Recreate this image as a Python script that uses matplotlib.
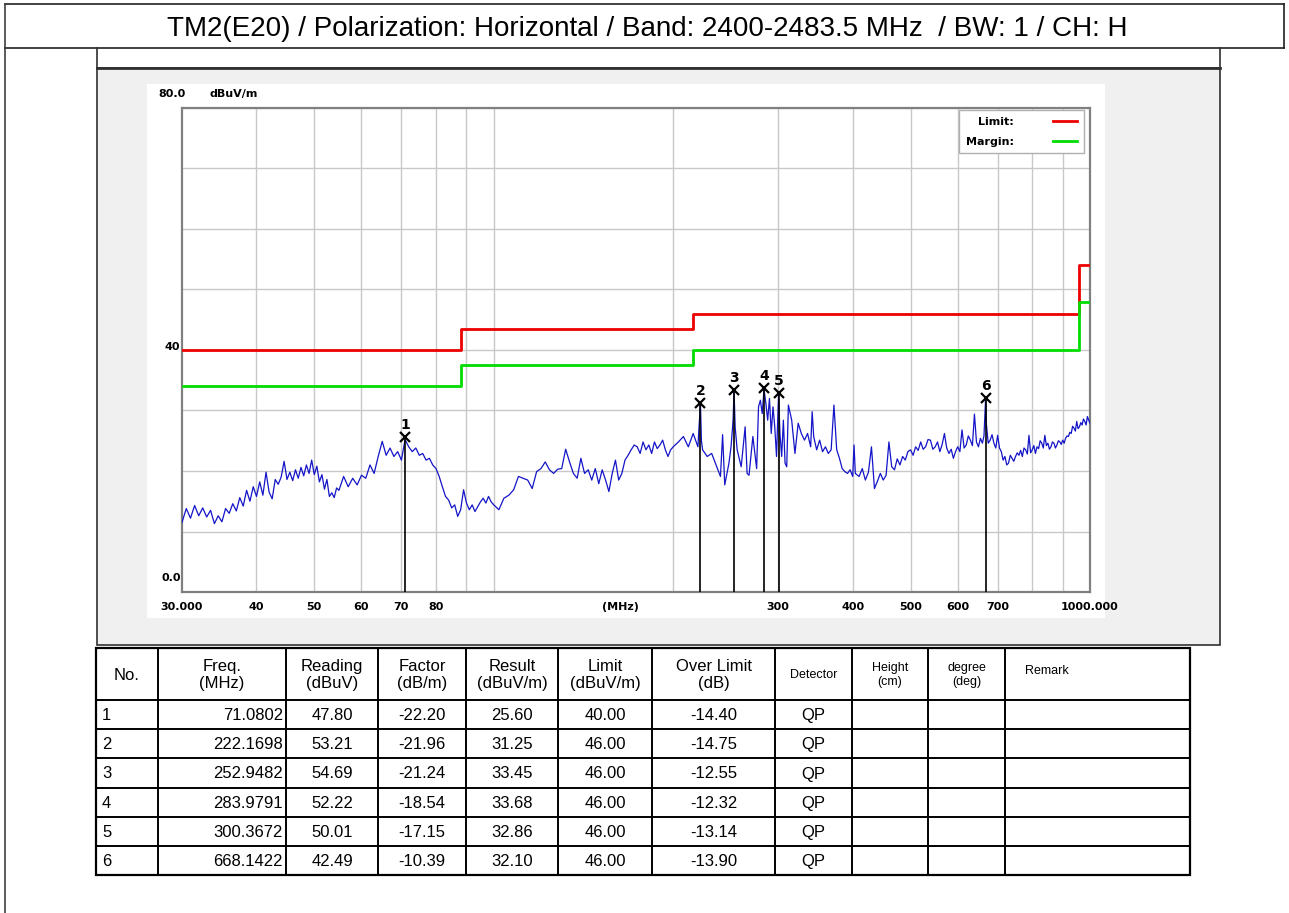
import matplotlib
matplotlib.use('Agg')
import matplotlib.pyplot as plt
from matplotlib.patches import Rectangle
from matplotlib.lines import Line2D

# ---- scan trace (MHz, dBuV/m) ----
f_seg1 = [30, 30.5, 31, 31.5, 32, 32.5, 33, 33.5, 34, 34.5,
          35, 35.5, 36, 36.5, 37, 37.5, 38, 38.5, 39, 39.5,
          40, 40.5, 41, 41.5, 42, 42.5, 43, 43.5, 44, 44.5,
          45, 45.5, 46, 46.5, 47, 47.5, 48, 48.5, 49, 49.5,
          50, 50.5, 51, 51.5, 52, 52.5, 53, 53.5, 54, 54.5, 55]
v_seg1 = [11.5, 13.8, 12.2, 14.3, 12.6, 13.9, 12.4, 13.5, 11.3, 12.6,
          11.6, 13.8, 13.0, 14.6, 13.4, 15.6, 14.2, 16.8, 15.0, 17.4,
          15.8, 18.2, 16.0, 19.8, 16.5, 15.4, 18.6, 17.8, 19.0, 21.6,
          18.6, 19.8, 18.4, 20.2, 18.8, 20.6, 19.2, 21.0, 19.6, 21.8,
          19.4, 20.8, 18.2, 19.4, 17.0, 18.6, 15.8, 16.4, 15.6, 17.2, 16.8]

f_seg2 = [56, 57, 58, 59, 60, 61, 62, 63, 64, 65, 66, 67, 68, 69, 70,
          71, 72, 73, 74, 75, 76, 77, 78, 79, 80, 81, 82, 83, 84, 85,
          86, 87, 88, 89, 90, 91, 92, 93, 94, 95, 96, 97, 98, 99, 100]
v_seg2 = [19.1, 17.4, 18.8, 17.7, 19.3, 18.8, 21.0, 19.6, 22.4, 24.9,
          22.6, 23.8, 22.4, 23.2, 21.8, 25.2, 24.0, 23.2, 23.8, 22.6,
          22.9, 21.8, 22.1, 21.0, 20.4, 19.1, 17.4, 15.8, 15.2, 13.9,
          14.4, 12.5, 13.6, 16.9, 14.7, 13.6, 14.4, 13.3, 14.1, 14.9,
          15.5, 14.7, 15.8, 14.9, 14.4]

f_seg3 = [102, 104, 106, 108, 110, 112, 114, 116, 118, 120,
          122, 124, 126, 128, 130, 132, 134, 136, 138, 140,
          142, 144, 146, 148, 150, 152, 154, 156, 158, 160,
          162, 164, 166, 168, 170, 172, 174, 176, 178, 180,
          182, 184, 186, 188, 190, 192, 194, 196, 198, 200]
v_seg3 = [13.6, 15.5, 16.0, 16.9, 19.1, 18.8, 18.5, 17.1, 19.9, 20.4,
          21.5, 20.2, 19.6, 20.3, 20.4, 23.6, 21.5, 19.6, 18.8, 22.1,
          19.6, 20.2, 18.5, 20.4, 17.9, 20.2, 18.5, 16.6, 19.6, 21.8,
          18.5, 19.6, 21.8, 22.6, 23.5, 24.3, 24.0, 22.9, 24.8, 23.5,
          24.3, 22.9, 24.8, 23.7, 24.3, 25.1, 23.5, 22.4, 23.5, 24.0]

f_seg4 = [204, 208, 212, 216, 220, 221, 222.17, 223, 224, 228,
          232, 236, 240, 242, 244, 248, 250, 252, 252.95, 254,
          256, 260, 264, 266, 268, 272, 276, 278, 280, 282,
          283.98, 286, 288, 290, 292, 294, 296, 298, 300.37, 302,
          304, 306, 308, 310, 312, 316, 320, 324, 328, 332,
          336, 340, 342, 344, 348, 352, 356, 360, 364, 368,
          372, 376, 380, 384, 388, 392, 396, 400, 402, 404]
v_seg4 = [24.8, 25.7, 24.0, 26.2, 24.0, 27.5, 31.0, 25.0, 23.5, 22.4,
          22.9, 21.0, 19.1, 26.0, 17.7, 21.3, 24.0, 28.4, 33.2, 27.3,
          23.5, 20.7, 27.3, 19.6, 19.3, 25.7, 20.4, 30.6, 31.7, 29.5,
          33.5, 31.2, 28.4, 32.0, 26.2, 30.6, 27.3, 22.4, 32.6, 26.2,
          22.4, 28.4, 21.3, 20.7, 30.9, 28.4, 22.9, 27.9, 26.2, 25.1,
          26.2, 24.0, 29.8, 25.7, 23.5, 25.1, 23.2, 24.0, 22.9, 23.5,
          30.9, 23.5, 22.1, 20.4, 19.9, 19.6, 20.2, 19.1, 24.3, 19.6]

f_seg5 = [410, 415, 420, 425, 430, 435, 440, 445, 450, 455,
          460, 465, 470, 475, 480, 485, 490, 495, 500, 505,
          510, 515, 520, 525, 530, 535, 540, 545, 550, 555,
          560, 565, 570, 575, 580, 585, 590, 595, 600, 605,
          610, 615, 620, 625, 630, 635, 640, 645, 650, 655,
          660, 664, 668.14, 670, 675, 680, 685, 690, 695, 700,
          705, 710, 715, 720, 725, 730, 735, 740, 745, 750,
          755, 760, 765, 770, 775, 780, 785, 790, 795, 800,
          805, 810, 815, 820, 825, 830, 835, 840, 845, 850,
          855, 860, 865, 870, 875, 880, 885, 890, 895, 900,
          905, 910, 915, 920, 925, 930, 935, 940, 945, 950,
          955, 960, 965, 970, 975, 980, 985, 990, 995, 1000]
v_seg5 = [19.1, 20.4, 18.5, 19.8, 24.0, 17.1, 18.3, 19.6, 18.5, 19.3,
          24.8, 20.7, 20.2, 22.0, 21.0, 22.4, 21.8, 23.2, 23.5, 22.6,
          24.0, 23.4, 24.8, 23.6, 24.0, 25.2, 25.1, 23.6, 24.0, 24.8,
          23.2, 24.4, 26.2, 23.8, 22.9, 23.6, 22.1, 23.2, 24.0, 23.2,
          26.8, 23.8, 24.3, 25.8, 25.1, 24.2, 29.4, 24.8, 24.0, 25.4,
          24.6, 25.8, 31.8, 27.9, 24.6, 25.1, 26.0, 24.6, 23.8, 25.9,
          23.8, 23.2, 21.8, 22.4, 21.0, 21.3, 22.6, 22.1, 21.6, 22.4,
          23.0, 22.6, 23.4, 22.4, 23.8, 23.5, 22.8, 25.9, 23.0, 23.5,
          24.2, 22.9, 24.0, 23.7, 25.0, 24.6, 23.8, 25.9, 24.2, 24.6,
          23.6, 24.0, 24.8, 24.6, 23.8, 24.3, 25.0, 24.8, 24.4, 25.1,
          24.6, 25.4, 25.8, 25.7, 26.4, 26.2, 27.4, 27.1, 26.6, 28.2,
          27.0, 27.3, 28.0, 27.6, 28.6, 28.2, 27.6, 29.0, 28.4, 27.9]

freq = f_seg1 + f_seg2 + f_seg3 + f_seg4 + f_seg5
level = v_seg1 + v_seg2 + v_seg3 + v_seg4 + v_seg5

# ---- limit / margin lines ----
limit_f = [30, 88, 88, 216, 216, 960, 960, 1000]
limit_v = [40, 40, 43.5, 43.5, 46, 46, 54, 54]
margin_v = [34, 34, 37.5, 37.5, 40, 40, 48, 48]

# ---- peak table ----
peak_no = ['1', '2', '3', '4', '5', '6']
peak_freq = ['71.0802', '222.1698', '252.9482', '283.9791', '300.3672', '668.1422']
peak_reading = ['47.80', '53.21', '54.69', '52.22', '50.01', '42.49']
peak_factor = ['-22.20', '-21.96', '-21.24', '-18.54', '-17.15', '-10.39']
peak_result = ['25.60', '31.25', '33.45', '33.68', '32.86', '32.10']
peak_limit = ['40.00', '46.00', '46.00', '46.00', '46.00', '46.00']
peak_over = ['-14.40', '-14.75', '-12.55', '-12.32', '-13.14', '-13.90']
peak_det = ['QP', 'QP', 'QP', 'QP', 'QP', 'QP']

headers = ['No.', 'Freq.\n(MHz)', 'Reading\n(dBuV)', 'Factor\n(dB/m)',
           'Result\n(dBuV/m)', 'Limit\n(dBuV/m)', 'Over Limit\n(dB)',
           'Detector', 'Height\n(cm)', 'degree\n(deg)', 'Remark']

grid_x = [40, 50, 60, 70, 80, 90, 100, 200, 300, 400, 500, 600, 700, 800, 900]
tick_x = [30, 40, 50, 60, 70, 80, 163, 300, 400, 500, 600, 700, 1000]
tick_lbl = ['30.000', '40', '50', '60', '70', '80', '(MHz)',
            '300', '400', '500', '600', '700', '1000.000']

title = 'TM2(E20) / Polarization: Horizontal / Band: 2400-2483.5 MHz  / BW: 1 / CH: H'

W, H = 1289, 913
fig = plt.figure(figsize=(W / 100, H / 100), dpi=100)
fig.patch.set_facecolor('white')

# background / frame, drawn in pixel coordinates
bg = fig.add_axes([0, 0, 1, 1])
bg.set_xlim(0, W)
bg.set_ylim(H, 0)
bg.axis('off')
bg.set_zorder(0)

sans = 'Liberation Sans'
bg.plot([5, 1284], [4, 4], color='#202020', lw=1.2)
bg.plot([5, 1284], [48, 48], color='#202020', lw=1.2)
bg.plot([5, 5], [4, H], color='#404040', lw=1.2)
bg.plot([1284, 1284], [4, 48], color='#202020', lw=1.2)
bg.text(647, 29, title, ha='center', va='center', fontsize=20, family=sans)
bg.plot([97, 97], [48, 68], color='#303030', lw=1.2)
bg.plot([1220, 1220], [48, 68], color='#303030', lw=1.2)
bg.add_patch(Rectangle((97, 68), 1123, 577, fc='#f0f0f0', ec='#303030', lw=1.2))
bg.plot([97, 1220], [68, 68], color='#303030', lw=2)
bg.add_patch(Rectangle((147, 84), 958, 534, fc='white', ec='none'))

# table
cols = [96, 158, 286, 378, 466, 558, 652, 775, 852, 928, 1005, 1190]
rows = [648, 700, 729, 758, 788, 817, 846, 875]
bg.add_patch(Rectangle((cols[0], rows[0]), cols[-1] - cols[0], rows[-1] - rows[0],
                       fc='white', ec='black', lw=1.6, zorder=0))
for yy in rows:
    bg.plot([cols[0], cols[-1]], [yy, yy], color='black', lw=1.4)
for xx in cols:
    bg.plot([xx, xx], [rows[0], rows[-1]], color='black', lw=1.4)

hy = (rows[0] + rows[1]) / 2 + 1
for i, h in enumerate(headers):
    cx = (cols[i] + cols[i + 1]) / 2
    fs = 12 if i < 7 else 9
    if h == 'Remark':
        bg.text(cols[i] + 20, hy - 4, h, ha='left', va='center', fontsize=fs, family=sans)
    else:
        bg.text(cx, hy, h, ha='center', va='center', fontsize=fs, family=sans,
                linespacing=1.15)

table_cols = [peak_no, peak_freq, peak_reading, peak_factor, peak_result,
              peak_limit, peak_over, peak_det]
for r in range(len(peak_no)):
    ry = (rows[r + 1] + rows[r + 2]) / 2 + 1
    for c, vals in enumerate(table_cols):
        if c == 0:
            bg.text(cols[0] + 6, ry, vals[r], ha='left', va='center', fontsize=12, family=sans)
        elif c == 1:
            bg.text(cols[2] - 3, ry, vals[r], ha='right', va='center', fontsize=12, family=sans)
        else:
            bg.text((cols[c] + cols[c + 1]) / 2, ry, vals[r], ha='center', va='center',
                    fontsize=12, family=sans)

# ---- the plot ----
ax = fig.add_axes([182 / W, 1 - 592 / H, 908 / W, 484 / H])
ax.set_zorder(1)
ax.set_facecolor('white')
ax.set_xscale('log')
ax.set_xlim(30, 1000)
ax.set_ylim(0, 80)
ax.xaxis.remove_overlapping_locs = False

ax.set_xticks(grid_x, minor=True)
ax.set_xticks(tick_x)
ax.set_xticklabels(tick_lbl)
ax.xaxis.set_minor_formatter(matplotlib.ticker.NullFormatter())
ax.set_yticks(range(0, 81, 10))
ax.set_yticklabels([])
ax.tick_params(which='both', length=0)
ax.tick_params(axis='x', which='major', pad=7, labelsize=8, labelcolor='black')
for t in ax.get_xticklabels():
    t.set_fontweight('bold')
ax.grid(True, which='minor', axis='x', color='#c8c8c8', lw=1)
ax.grid(True, which='major', axis='y', color='#c8c8c8', lw=1)
for s in ax.spines.values():
    s.set_color('#808080')
    s.set_linewidth(1.6)

ax.plot(freq, level, color='#1414c8', lw=0.9, zorder=3)
ax.plot(limit_f, limit_v, color='#ee0000', lw=2, zorder=4)
ax.plot(limit_f, margin_v, color='#00dd00', lw=2, zorder=4)

pk_f = [float(v) for v in peak_freq]
pk_v = [float(v) for v in peak_result]
ax.vlines(pk_f, 0, pk_v, color='black', lw=1.2, zorder=5)
ax.plot(pk_f, pk_v, ls='none', marker='x', ms=7, mew=1.6, color='black', zorder=6)
for n, fx, vy in zip(peak_no, pk_f, pk_v):
    ax.annotate(n, (fx, vy), xytext=(0, 12), textcoords='offset pixels',
                ha='center', va='center', fontsize=10, fontweight='bold', zorder=6)

lab = dict(xycoords=('axes fraction', 'data'), textcoords='offset pixels',
           va='center', fontsize=8, fontweight='bold')
ax.annotate('80.0', (0, 80), xytext=(4, 14), ha='right', annotation_clip=False, **lab)
ax.annotate('dBuV/m', (0, 80), xytext=(28, 14), ha='left', annotation_clip=False, **lab)
ax.annotate('40', (0, 40), xytext=(-2, 3), ha='right', annotation_clip=False, **lab)
ax.annotate('0.0', (0, 0), xytext=(-1, 14), ha='right', annotation_clip=False, **lab)

handles = [Line2D([], [], color='#ee0000', lw=2), Line2D([], [], color='#00dd00', lw=2)]
leg = ax.legend(handles, ['Limit:', 'Margin:'], loc='upper right',
                bbox_to_anchor=(0.993, 0.996), borderaxespad=0, markerfirst=False,
                fancybox=False, edgecolor='#b0b0b0', framealpha=1,
                prop={'weight': 'bold', 'size': 8}, handlelength=2.2,
                handletextpad=3.5, labelspacing=0.9, borderpad=0.6)
leg.get_frame().set_linewidth(1)

fig.savefig('out.png', dpi=100)
